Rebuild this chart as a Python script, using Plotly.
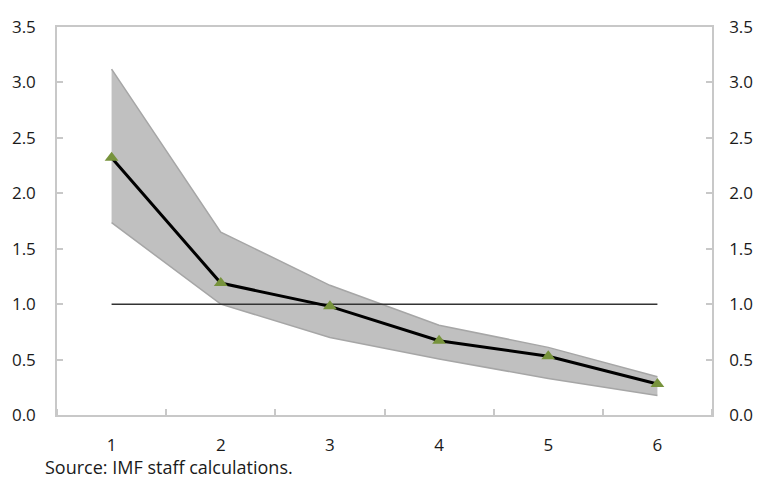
import plotly.graph_objects as go

# horizon (quarters) and estimated response with confidence band
horizon = [1, 2, 3, 4, 5, 6]
estimate = [2.32, 1.19, 0.98, 0.67, 0.53, 0.28]
upper_band = [3.12, 1.65, 1.17, 0.81, 0.61, 0.345]
lower_band = [1.735, 1.0, 0.70, 0.505, 0.33, 0.175]
reference_level = [1.0, 1.0]
reference_x = [1, 6]

y_ticks = [0.0, 0.5, 1.0, 1.5, 2.0, 2.5, 3.0, 3.5]
y_labels = [f"{v:.1f}" for v in y_ticks]

FONT = "Open Sans"
AXIS_GREY = "#c8c8c8"

fig = go.Figure()

# confidence band: upper edge, then lower edge filled up to it
fig.add_trace(go.Scatter(
    x=horizon, y=upper_band, mode="lines",
    line=dict(color="#a6a6a6", width=1.5),
    showlegend=False, hoverinfo="skip",
))
fig.add_trace(go.Scatter(
    x=horizon, y=lower_band, mode="lines",
    line=dict(color="#a6a6a6", width=1.5),
    fill="tonexty", fillcolor="#c0c0c0",
    showlegend=False, hoverinfo="skip",
))

# reference line at 1
fig.add_trace(go.Scatter(
    x=reference_x, y=reference_level, mode="lines",
    line=dict(color="#333333", width=1.5),
    showlegend=False, hoverinfo="skip",
))

# point estimate
fig.add_trace(go.Scatter(
    x=horizon, y=estimate, mode="lines+markers",
    line=dict(color="#000000", width=3),
    marker=dict(symbol="triangle-up", size=12, color="#77933c"),
    showlegend=False,
))

# invisible trace to activate the right-hand axis
fig.add_trace(go.Scatter(
    x=horizon, y=estimate, yaxis="y2", mode="lines",
    line=dict(width=0), opacity=0, showlegend=False, hoverinfo="skip",
))

fig.add_annotation(
    text="Source: IMF staff calculations.",
    xref="paper", yref="paper", x=-0.022, y=-0.097,
    xanchor="left", yanchor="top", showarrow=False,
    font=dict(family=FONT, size=18, color="#1a1a1a"),
)

fig.update_layout(
    width=762, height=481,
    margin=dict(l=57, r=50, t=27, b=66, autoexpand=False),
    paper_bgcolor="white", plot_bgcolor="white",
    font=dict(family=FONT, size=17, color="#1a1a1a"),
    xaxis=dict(
        range=[0.5, 6.5], tickvals=horizon, ticktext=[str(h) for h in horizon],
        showgrid=False, zeroline=False, automargin=False,
        showline=True, linecolor=AXIS_GREY, linewidth=1.5, mirror=True,
        ticks="", ticklabelstandoff=14,
        minor=dict(tick0=0.5, dtick=1, ticks="inside", ticklen=6,
                   tickcolor=AXIS_GREY, tickwidth=1.5, showgrid=False),
    ),
    yaxis=dict(
        range=[0, 3.5], tickvals=y_ticks, ticktext=y_labels,
        showgrid=False, zeroline=False, automargin=False,
        showline=True, linecolor=AXIS_GREY, linewidth=1.5,
        ticks="inside", ticklen=6, tickcolor=AXIS_GREY, tickwidth=1.5,
        ticklabelstandoff=16,
    ),
    yaxis2=dict(
        range=[0, 3.5], tickvals=y_ticks, ticktext=y_labels,
        overlaying="y", side="right", anchor="x",
        showgrid=False, zeroline=False, automargin=False,
        showline=True, linecolor=AXIS_GREY, linewidth=1.5,
        ticks="inside", ticklen=6, tickcolor=AXIS_GREY, tickwidth=1.5,
        ticklabelstandoff=12,
    ),
)

# drop the default page margin so the figure sits at the window's corner
fig.write_html(
    "out.html",
    config={"displayModeBar": False},
    post_script="document.body.style.margin='0';document.body.style.overflow='hidden';",
)
